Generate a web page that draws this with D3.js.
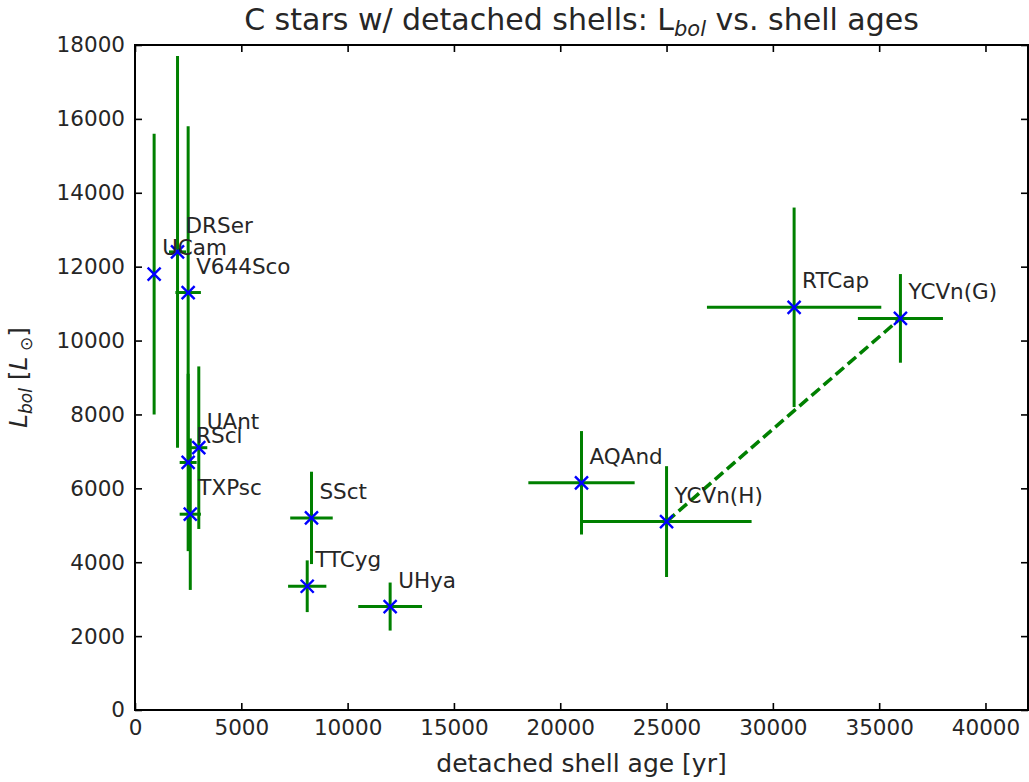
<!DOCTYPE html>
<html>
<head>
<meta charset="utf-8">
<script src="https://cdn.jsdelivr.net/npm/d3@7"></script>
<style>
  body { margin: 0; background: #fff; }
  text { font-family: "DejaVu Sans", sans-serif; fill: #262626; }
</style>
</head>
<body>
<svg width="1029" height="782"></svg>
<script>
// star names and values
var names   = ["UCam", "DRSer", "V644Sco", "UAnt", "RScl", "TXPsc", "SSct", "TTCyg", "UHya", "AQAnd", "YCVn(H)", "RTCap", "YCVn(G)"];
var ages    = [900, 2000, 2500, 3000, 2500, 2600, 8300, 8100, 12000, 21000, 25000, 31000, 36000];
var ageErrs = [0, 400, 600, 400, 400, 500, 1000, 900, 1500, 2500, 4000, 4100, 2000];
var lums    = [11800, 12400, 11300, 7100, 6700, 5300, 5200, 3350, 2800, 6150, 5100, 10900, 10600];
var lumErrs = [3800, 5300, 4500, 2200, 2400, 2050, 1250, 700, 650, 1400, 1500, 2700, 1200];

// the two YCVn shell ages joined by a dashed line
var ycvnAges = [25000, 36000];
var ycvnLums = [5100, 10600];

var xTicks = [0, 5000, 10000, 15000, 20000, 25000, 30000, 35000, 40000];
var yTicks = [0, 2000, 4000, 6000, 8000, 10000, 12000, 14000, 16000, 18000];

function drawChart() {
    var svg = d3.select("svg");
    var pL = 135, pR = 1028, pT = 45, pB = 710;

    var scX = d3.scaleLinear().domain([0, 42000]).range([pL, pR]);
    var scY = d3.scaleLinear().domain([0, 18000]).range([pB, pT]);

    var data = names.map(function(n, i) {
        return {name: n, x: ages[i], xe: ageErrs[i], y: lums[i], ye: lumErrs[i]};
    });

    // error bars
    var eb = svg.append("g").attr("stroke", "#008000").attr("stroke-width", 3);
    data.forEach(function(d) {
        eb.append("line")
            .attr("x1", scX(d.x)).attr("x2", scX(d.x))
            .attr("y1", scY(d.y - d.ye)).attr("y2", scY(d.y + d.ye));
        if (d.xe > 0) {
            eb.append("line")
                .attr("x1", scX(d.x - d.xe)).attr("x2", scX(d.x + d.xe))
                .attr("y1", scY(d.y)).attr("y2", scY(d.y));
        }
    });

    // dashed connector
    var lnMkr = d3.line().x(d => scX(d[0])).y(d => scY(d[1]));
    svg.append("path")
        .attr("d", lnMkr(d3.zip(ycvnAges, ycvnLums)))
        .attr("fill", "none").attr("stroke", "#008000")
        .attr("stroke-width", 3.5).attr("stroke-dasharray", "11,5");

    // x markers
    var m = 6.5;
    svg.append("g").selectAll("path")
        .data(data).enter()
        .append("path")
        .attr("d", function(d) {
            var cx = scX(d.x), cy = scY(d.y);
            return "M" + (cx - m) + "," + (cy - m) + "L" + (cx + m) + "," + (cy + m) +
                   "M" + (cx - m) + "," + (cy + m) + "L" + (cx + m) + "," + (cy - m);
        })
        .attr("stroke", "#0000ff").attr("stroke-width", 2.4).attr("fill", "none");

    // labels
    svg.append("g").selectAll("text")
        .data(data).enter()
        .append("text")
        .attr("x", d => scX(d.x) + 8)
        .attr("y", d => scY(d.y) - 19)
        .attr("font-size", 21.5)
        .text(d => d.name);

    // axes, ticks pointing inward on all sides
    var tl = 7;
    svg.append("g").attr("transform", "translate(0," + pB + ")")
        .call(d3.axisBottom(scX).tickValues(xTicks).tickSizeInner(-tl).tickSizeOuter(0).tickPadding(10).tickFormat(d3.format("d")));
    svg.append("g").attr("transform", "translate(0," + pT + ")")
        .call(d3.axisTop(scX).tickValues(xTicks).tickSizeInner(-tl).tickSizeOuter(0).tickFormat(""));
    svg.append("g").attr("transform", "translate(" + pL + ",0)")
        .call(d3.axisLeft(scY).tickValues(yTicks).tickSizeInner(-tl).tickSizeOuter(0).tickPadding(10).tickFormat(d3.format("d")));
    svg.append("g").attr("transform", "translate(" + pR + ",0)")
        .call(d3.axisRight(scY).tickValues(yTicks).tickSizeInner(-tl).tickSizeOuter(0).tickFormat(""));

    svg.selectAll(".tick line").attr("stroke", "#000").attr("stroke-width", 1.6);
    svg.selectAll(".domain").remove();
    svg.selectAll(".tick text").attr("font-size", 21.5).attr("font-family", "DejaVu Sans").attr("fill", "#262626");

    svg.append("rect")
        .attr("x", pL).attr("y", pT)
        .attr("width", pR - pL).attr("height", pB - pT)
        .attr("fill", "none").attr("stroke", "#000").attr("stroke-width", 2);

    // title
    var title = svg.append("text")
        .attr("x", (pL + pR) / 2).attr("y", 30)
        .attr("text-anchor", "middle").attr("font-size", 30);
    title.append("tspan").text("C stars w/ detached shells: L");
    title.append("tspan").attr("font-style", "italic").attr("font-size", 21).attr("dy", 6).text("bol");
    title.append("tspan").attr("dy", -6).text(" vs. shell ages");

    // x label
    svg.append("text")
        .attr("x", (pL + pR) / 2).attr("y", 772)
        .attr("text-anchor", "middle").attr("font-size", 25)
        .text("detached shell age [yr]");

    // y label
    var yl = svg.append("text")
        .attr("transform", "translate(27," + ((pT + pB) / 2) + ") rotate(-90)")
        .attr("text-anchor", "middle").attr("font-size", 25);
    yl.append("tspan").attr("font-style", "italic").text("L");
    yl.append("tspan").attr("font-style", "italic").attr("font-size", 17).attr("dy", 5).text("bol");
    yl.append("tspan").attr("dy", -5).text(" [");
    yl.append("tspan").attr("font-style", "italic").text("L");
    yl.append("tspan").attr("font-size", 17).attr("dy", 5).text(" \u2299");
    yl.append("tspan").attr("dy", -5).text("]");
}

drawChart();
</script>
</body>
</html>
